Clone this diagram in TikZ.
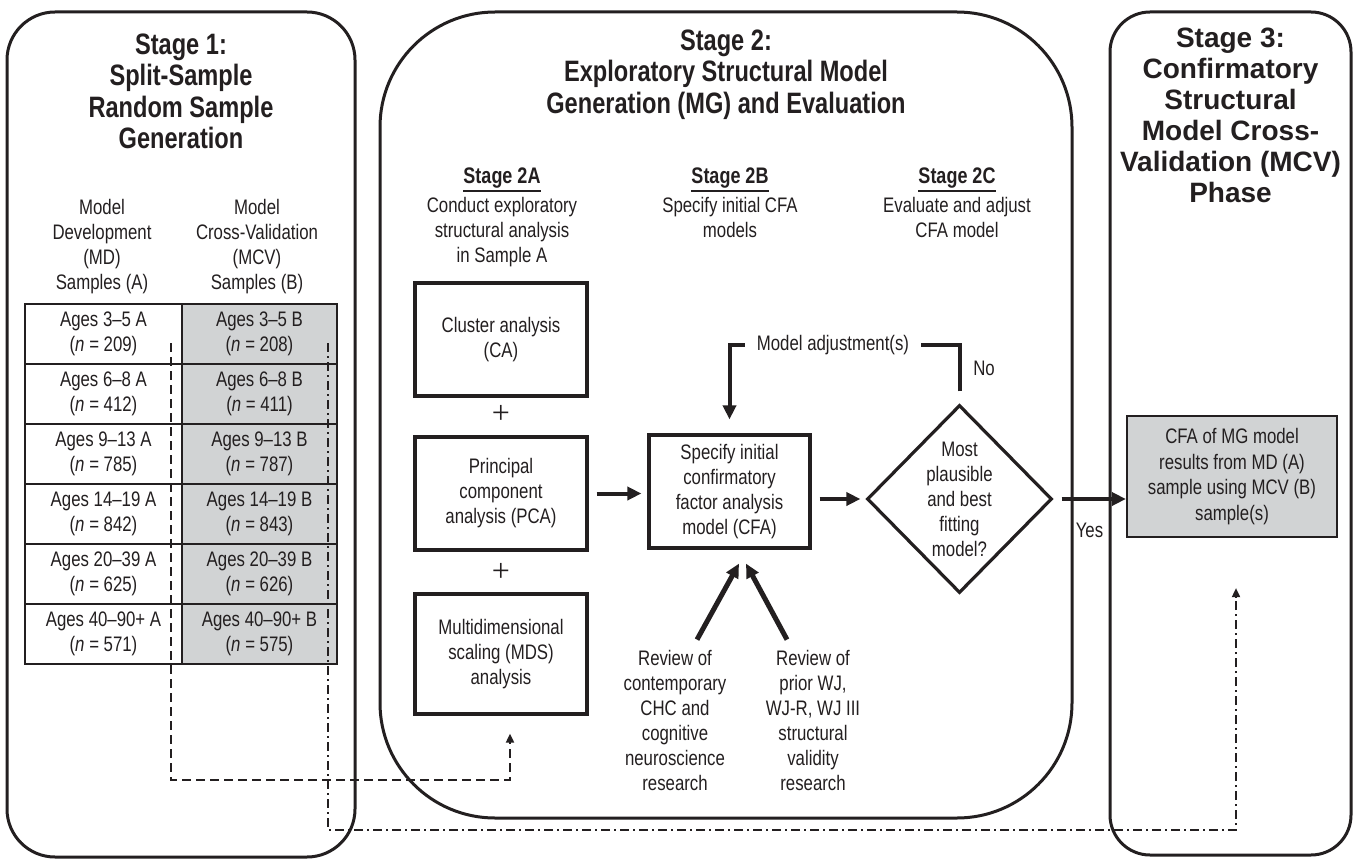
\documentclass[tikz,border=0pt]{standalone}
\usepackage{fontspec}
\setmainfont{Liberation Sans}[FakeStretch=0.8]
\newfontfamily\widefont{Liberation Sans}
\newfontfamily\plusfont{Liberation Serif}
\usetikzlibrary{shapes.geometric,arrows.meta}
\definecolor{ink}{HTML}{231F20}
\definecolor{shade}{HTML}{D1D3D4}
\begin{document}
\begin{tikzpicture}[x=1pt,y=-1pt,
  every node/.style={text=ink, inner sep=0pt},
  stage/.style={draw=ink, line width=3pt},
  ttl/.style={font=\fontsize{29.5}{31.5}\selectfont\bfseries, align=center, anchor=north},
  ttlw/.style={font=\widefont\fontsize{28}{31}\selectfont\bfseries, align=center, anchor=north},
  txt/.style={font=\fontsize{21}{25}\selectfont, align=center},
  hd/.style={font=\fontsize{22.5}{25}\selectfont\bfseries, anchor=base},
  cellA/.style={draw=ink, line width=2.5pt, minimum width=157pt, minimum height=60pt, txt},
  cellB/.style={cellA, fill=shade, minimum width=155pt},
  box/.style={draw=ink, line width=3.2pt, txt, minimum width=172pt, minimum height=113pt},
  arr/.style={draw=ink, line width=4pt, -{Triangle[length=14pt,width=13pt]}},
  dashA/.style={draw=ink, line width=1.8pt, dash pattern=on 9pt off 5pt, -{Triangle[length=9pt,width=8pt]}},
  dashB/.style={draw=ink, line width=1.8pt, dash pattern=on 9pt off 4pt on 2pt off 4pt, -{Triangle[length=9pt,width=8pt]}},
  plus/.style={font=\plusfont\fontsize{32}{32}\selectfont}
]
\fill[white] (0,0) rectangle (1354,861);
\useasboundingbox (0,0) rectangle (1354,861);

% stage containers
\draw[stage, rounded corners=48pt] (7,12) rectangle (355,857);
\draw[stage, rounded corners=115pt] (380,12) rectangle (1072,818);
\draw[stage, rounded corners=40pt] (1110,12) rectangle (1351,855);

% titles
\node[ttl] (t1) at (181,33.5) {Stage 1:\\Split-Sample\\Random Sample\\Generation};
\node[ttl] (t2) at (726,29.5) {Stage 2:\\Exploratory Structural Model\\Generation (MG) and Evaluation};
\node[ttlw] (t3) at (1230.5,28) {Stage 3:\\Confirmatory\\Structural\\Model Cross-\\Validation (MCV)\\Phase};

% stage 1 column headers
\node[txt, anchor=north] (hA) at (102,199.5) {Model\\Development\\(MD)\\Samples (A)};
\node[txt, anchor=north] (hB) at (257,199.5) {Model\\Cross-Validation\\(MCV)\\Samples (B)};

% table
\foreach \ages/\na/\nb [count=\i] in {3–5/209/208, 6–8/412/411, 9–13/785/787, 14–19/842/843, 20–39/625/626, 40–90+/571/575} {
  \node[cellA] (a\i) at (103.5,274+60*\i) {Ages \ages{} A\\(\textit{n} = \na)};
  \node[cellB] (b\i) at (259.5,274+60*\i) {Ages \ages{} B\\(\textit{n} = \nb)};
}

% stage 2 sub headers
\node[hd] (h2a) at (502,184) {Stage 2A};
\node[hd] (h2b) at (730,184) {Stage 2B};
\node[hd] (h2c) at (957,184) {Stage 2C};
\foreach \h in {h2a,h2b,h2c}
  \draw[ink, line width=2pt] ([yshift=-7pt]\h.base west) -- ([yshift=-7pt]\h.base east);
\node[txt, anchor=north] (s2a) at (502,197.5) {Conduct exploratory\\structural analysis\\in Sample A};
\node[txt, anchor=north] (s2b) at (730,197.5) {Specify initial CFA\\models};
\node[txt, anchor=north] (s2c) at (957,197.5) {Evaluate and adjust\\CFA model};

% stage 2A boxes
\node[box] (ca) at (501,339.5) {Cluster analysis\\(CA)};
\node[plus] (p1) at (501,414) {+};
\node[box] (pca) at (501,493.5) {Principal\\component\\analysis (PCA)};
\node[plus] (p2) at (501,572) {+};
\node[box, minimum height=120pt] (mds) at (501,654) {Multidimensional\\scaling (MDS)\\analysis};

% CFA box and diamond
\node[box, minimum width=161pt] (cfa) at (729.5,491.5) {Specify initial\\confirmatory\\factor analysis\\model (CFA)};
\node[draw=ink, line width=3.2pt, diamond, inner sep=-20pt, minimum width=185pt, minimum height=188pt, txt] (d) at (959.5,499) {Most\\plausible\\and best\\fitting\\model?};

\draw[arr, shorten <=8pt, shorten >=6pt] (pca.east) -- (pca.east -| cfa.west);
\draw[arr, shorten <=8pt, shorten >=5pt] (cfa.east |- d.west) -- (d.west);

% adjustment loop
\node[txt, inner xsep=12pt] (adj) at (833,345) {Model adjustment(s)};
\node[txt] (no) at (984,368) {No};
\draw[ink, line width=4pt, shorten <=12pt] (d.north) |- (adj.east);
\draw[arr, shorten >=14pt] (adj.west) -| (cfa.north);

% reviews
\node[txt] (rv1) at (675,720) {Review of\\contemporary\\CHC and\\cognitive\\neuroscience\\research};
\node[txt] (rv2) at (813,720) {Review of\\prior WJ,\\WJ-R, WJ III\\structural\\validity\\research};
\draw[arr, line width=5pt] ([xshift=22pt,yshift=10pt]rv1.north) -- ([xshift=9.5pt,yshift=-14pt]cfa.south);
\draw[arr, line width=5pt] ([xshift=-26pt,yshift=10pt]rv2.north) -- ([xshift=16.5pt,yshift=-14pt]cfa.south);

% stage 3 box
\node[draw=ink, line width=2.2pt, fill=shade, minimum width=210pt, minimum height=121pt,
  txt, font=\fontsize{21}{25.5}\selectfont] (g3) at (1232,476.5)
  {CFA of MG model\\results from MD (A)\\sample using MCV (B)\\sample(s)};
\draw[arr, shorten <=8pt] (d.east) -- (d.east -| g3.west);
\node[txt] (yes) at (1089.5,530) {Yes};

% dashed sample routes
\coordinate (dA) at (171,343);
\coordinate (dAc) at (510,780);
\draw[dashA, shorten >=18pt] (dA) |- (dAc) -- (mds.south -| dAc);
\coordinate (dB) at (328,343);
\coordinate (dBc) at (1236,830);
\draw[dashB, shorten >=50pt] (dB) |- (dBc) -- (g3.south -| dBc);
\end{tikzpicture}
\end{document}
